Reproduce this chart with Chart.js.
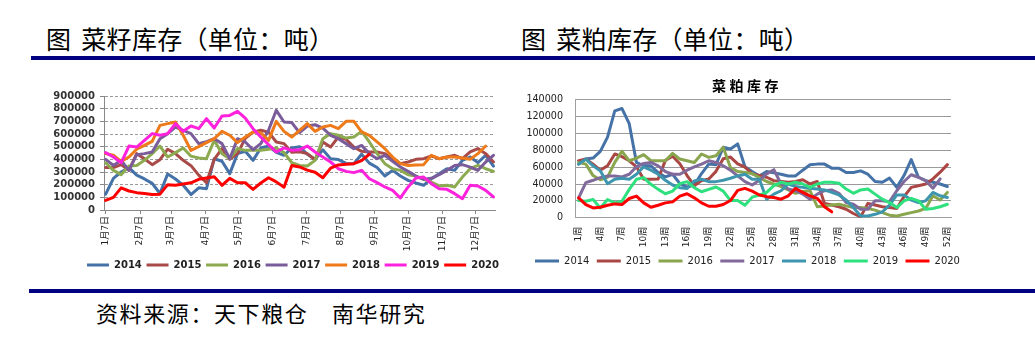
<!DOCTYPE html>
<html lang="zh-CN">
<head>
<meta charset="utf-8">
<title>菜籽、菜粕库存</title>
<script src="https://cdn.jsdelivr.net/npm/chart.js@4.4.1/dist/chart.umd.min.js"></script>
<style>
  html, body { margin: 0; padding: 0; background: #fff; }
  body { position: relative; width: 1035px; height: 340px; overflow: hidden;
         font-family: 'Noto Sans CJK SC', 'Noto Sans', sans-serif; color: #000; }
  .head { position: absolute; top: 23px; font-size: 25px; line-height: 30px; letter-spacing: 0.3px; white-space: nowrap; }
  .head .gap { display: inline-block; width: 10px; }
  .rule { position: absolute; left: 31px; right: 0; background: #000080; }
  .foot { position: absolute; left: 96px; top: 298px; font-size: 22px; line-height: 28px; letter-spacing: 1.6px; white-space: nowrap; }
  .ctitle { position: absolute; left: 644px; width: 200px; top: 76px; padding-left: 3px; text-align: center;
            font-size: 14px; line-height: 18px; font-weight: bold; letter-spacing: 3.5px; white-space: nowrap; }
  canvas { position: absolute; }
</style>
</head>
<body>
<div class="head" style="left:46px">图<span class="gap"></span>菜籽库存（单位：吨）</div>
<div class="head" style="left:521px">图<span class="gap"></span>菜粕库存（单位：吨）</div>
<div class="rule" style="top:56px;height:4px"></div>

<canvas id="seed" width="526" height="195" style="left:30px;top:85px;width:526px;height:195px"></canvas>
<canvas id="meal" width="465" height="194" style="left:515px;top:82px;width:465px;height:194px"></canvas>
<div class="ctitle">菜粕库存</div>

<div class="rule" style="top:289px;height:4px;left:29px"></div>
<div class="foot">资料来源：天下粮仓　南华研究</div>

<script>
// ---------- 菜籽库存 (tons), weekly readings ----------
// day of year (0 = 1月1日) of each weekly reading, first one on 1月7日
const seedWeekDays = [6,13,20,27,34,41,48,55,62,69,76,83,90,97,104,111,118,125,132,139,
  146,153,160,167,174,181,188,195,202,209,216,223,230,237,244,251,258,265,272,279,
  286,293,300,307,314,321,328,335,342,349,356];

// month tick positions (day of year) and their labels
const seedTickDays = [6, 37, 65, 96, 126, 157, 187, 218, 249, 279, 310, 340];
const seedTickLabels = ['1月7日','2月7日','3月7日','4月7日','5月7日','6月7日',
  '7月7日','8月7日','9月7日','10月7日','11月7日','12月7日'];

const seed2014 = [125000,250000,300000,335000,275000,245000,210000,130000,285000,245000,
  195000,122000,175000,168000,405000,385000,287000,445000,463000,392000,
  490000,505000,455000,432000,490000,500000,440000,400000,475000,405000,
  398000,368000,366000,440000,370000,335000,268000,313000,268000,234000,
  213000,195000,247000,287000,326000,313000,392000,418000,374000,432000,347000];
const seed2015 = [335000,335000,358000,313000,445000,405000,358000,397000,480000,445000,
  392000,350000,275000,215000,400000,485000,400000,445000,565000,615000,
  630000,615000,537000,524000,455000,460000,445000,397000,537000,497000,
  576000,558000,497000,463000,458000,458000,445000,400000,366000,379000,
  400000,405000,426000,405000,418000,432000,405000,458000,485000,445000,379000];
const seed2016 = [373000,313000,279000,347000,352000,392000,445000,505000,418000,453000,
  490000,425000,410000,405000,550000,445000,405000,485000,471000,471000,
  471000,479000,490000,453000,373000,352000,347000,392000,563000,603000,
  590000,568000,576000,621000,537000,445000,366000,326000,313000,279000,
  268000,242000,221000,190000,195000,182000,260000,326000,352000,326000,305000];
const seed2017 = [400000,352000,392000,313000,437000,445000,458000,563000,603000,655000,
  629000,603000,524000,540000,563000,524000,405000,563000,537000,476000,
  524000,629000,787000,695000,690000,610000,663000,673000,647000,590000,
  563000,524000,484000,510000,445000,405000,432000,384000,339000,305000,
  268000,242000,250000,279000,313000,352000,358000,339000,313000,379000,432000];
const seed2018 = [445000,432000,384000,418000,480000,510000,542000,668000,682000,695000,
  590000,470000,500000,532000,563000,621000,590000,532000,576000,616000,
  610000,550000,700000,621000,576000,629000,682000,621000,655000,668000,
  642000,700000,700000,616000,590000,537000,484000,418000,366000,352000,
  355000,358000,432000,405000,418000,418000,410000,400000,445000,505000];
const seed2019 = [453000,418000,373000,505000,497000,550000,603000,590000,603000,682000,
  621000,663000,642000,721000,647000,742000,747000,779000,726000,642000,
  576000,516000,458000,490000,471000,476000,505000,458000,418000,379000,
  326000,305000,295000,313000,247000,216000,182000,155000,95000,182000,
  253000,260000,208000,168000,163000,129000,89000,195000,190000,155000,103000];
const seed2020 = [76000,100000,175000,150000,137000,130000,122000,125000,200000,195000,
  205000,215000,242000,252000,262000,195000,250000,215000,215000,163000,
  213000,255000,222000,180000,352000,340000,315000,298000,255000,330000,
  356000,362000,366000,390000,440000];

// ---------- 菜粕库存 (tons), by week number ----------
const mealWeeks = ['1周','2周','3周','4周','5周','6周','7周','8周','9周','10周',
  '11周','12周','13周','14周','15周','16周','17周','18周','19周','20周',
  '21周','22周','23周','24周','25周','26周','27周','28周','29周','30周',
  '31周','32周','33周','34周','35周','36周','37周','38周','39周','40周',
  '41周','42周','43周','44周','45周','46周','47周','48周','49周','50周','51周','52周'];

const meal2014 = [63600,69600,70800,78800,95600,126800,129600,111600,65600,61600,
  61600,53600,48400,51600,40400,36400,38800,52400,63600,62800,
  83600,81600,87600,60400,54800,49600,54800,53200,51600,49600,
  49600,56400,62800,63600,63600,58800,58800,53600,53600,55600,
  51600,43000,42000,47000,36000,50000,69000,48000,44000,42000,40000,37000];
const meal2015 = [67600,69600,63600,56400,61600,75600,72400,67600,60400,45600,
  45600,46000,68000,73000,64000,50000,38000,44000,46000,55000,
  70000,72000,64000,60000,52000,50000,48000,44000,43000,42000,
  43000,45000,40000,43000,17000,15000,13000,10000,5000,1000,
  17000,15000,13000,12000,11000,25000,36000,38000,40000,46000,54000,63000];
const meal2016 = [65600,63600,50000,45000,48000,65600,78800,67600,70800,74800,
  67600,67600,67600,76400,69600,67600,65600,75600,71600,73600,
  83600,59600,54800,53600,52400,47600,43000,40000,37000,33000,
  29000,31000,32000,13000,14000,15000,16000,14000,12000,12000,
  11000,9000,6000,3000,2000,4000,6000,8000,11000,26000,21000,30000];
const meal2017 = [23600,41600,44400,47600,49600,49600,48400,51600,60400,64400,
  65600,61600,54800,51600,51600,56400,60400,63600,67600,65600,
  61600,56400,49600,42800,38800,44400,52000,57000,40000,34000,
  32000,28000,22000,28000,32000,33000,29000,18000,16000,10000,
  10000,20000,20000,19000,32000,43000,51000,48000,44000,35000,46000];
const meal2018 = [63600,69600,61600,55600,40400,45600,46800,45600,51600,60400,
  56400,51600,44400,38800,35600,34800,43600,45600,42800,42800,
  44400,46800,49600,51600,45600,45600,22000,28000,32000,40000,
  37000,36000,35000,34000,33000,30000,27000,21000,12000,2000,
  2000,4000,7000,15000,27000,27000,21000,18000,20000,30000,26000,24000];
const meal2019 = [20400,19600,21600,11600,21600,17600,19600,33600,45600,47600,
  39600,33600,28400,31600,40400,42800,35600,30800,33600,36400,
  31600,20400,20400,14800,24400,26800,30000,38000,42000,40000,
  42000,40000,36000,40000,42000,42000,41000,34000,29000,33000,
  34000,28000,22000,18000,12000,20000,23000,20000,10000,11000,13000,16000];
const meal2020 = [23600,15600,11600,12400,14800,16400,15600,22800,25600,17600,
  12400,14800,17600,18800,25600,28400,23600,17600,13600,13600,
  15600,20400,32400,34800,31600,27000,25000,24000,22000,26000,
  35000,30000,26000,23000,13000,7000];

const yearLabels = ['2014','2015','2016','2017','2018','2019','2020'];
const seedColors = ['#4472A8','#A84A48','#8CAA50','#7A5C9A','#EE7A1A','#FF22DD','#FF0000'];
const mealColors = ['#4572A7','#AA4643','#89A54E','#80699B','#3D96AE','#2EE07E','#FF0000'];

Chart.defaults.font.family = "'DejaVu Sans', 'Noto Sans CJK SC', sans-serif";
Chart.defaults.color = '#222';

// legend entries in year order, drawn as short thick lines
function yearLegendLabels(chart) {
  return chart.data.datasets.map((ds, i) => ({
    text: ds.label, fillStyle: ds.borderColor, strokeStyle: ds.borderColor,
    lineWidth: 0, hidden: false, datasetIndex: i, fontColor: '#222'
  }));
}

function lineSet(label, color, data, idx, count) {
  return {
    label, data, borderColor: color, backgroundColor: color,
    borderWidth: 3, pointRadius: 0, tension: 0, fill: false,
    borderJoinStyle: 'round', borderCapStyle: 'round',
    order: count - idx   // later years painted on top
  };
}

// ---------- left chart: 菜籽库存 ----------
const seedValues = [seed2014, seed2015, seed2016, seed2017, seed2018, seed2019, seed2020];
new Chart(document.getElementById('seed'), {
  type: 'line',
  data: {
    datasets: seedValues.map((vals, i) => lineSet(
      yearLabels[i], seedColors[i],
      vals.map((v, k) => ({ x: seedWeekDays[k], y: v })), i, seedValues.length))
  },
  options: {
    responsive: false, animation: false, events: [],
    layout: { padding: 0 },
    scales: {
      x: {
        type: 'linear', min: 4.5, max: 357.4,
        afterBuildTicks: s => { s.ticks = seedTickDays.map(v => ({ value: v })); },
        ticks: {
          autoSkip: false, maxRotation: 90, minRotation: 90, padding: 2,
          font: { size: 9 }, color: '#222',
          callback: v => seedTickLabels[seedTickDays.indexOf(v)] || ''
        },
        grid: { display: true, drawOnChartArea: false, drawTicks: true, tickLength: 4, color: '#888' },
        border: { display: true, color: '#888', width: 1 },
        afterFit: s => { s.height = 45.3; }
      },
      y: {
        type: 'linear', min: 0, max: 900000,
        ticks: { stepSize: 100000, autoSkip: false, padding: 5,
                 font: { size: 10, weight: 'bold' }, color: '#333',
                 callback: v => String(v) },
        grid: { color: '#9A9A9A', lineWidth: 1, drawTicks: true, tickLength: 4,
                tickColor: '#888', tickBorderDash: [] },
        border: { display: true, color: '#888', width: 1, dash: [3, 2] },
        afterFit: s => { s.width = 74; }
      },
      pad: {
        type: 'linear', position: 'right', display: true,
        ticks: { display: false }, grid: { display: false }, border: { display: false },
        afterFit: s => { s.width = 61; }
      }
    },
    plugins: {
      legend: {
        position: 'bottom', align: 'center',
        labels: { boxWidth: 22, boxHeight: 3, padding: 4.7, color: '#222',
                  font: { size: 10, weight: 'bold' }, generateLabels: yearLegendLabels }
      },
      tooltip: { enabled: false }
    }
  }
});

// ---------- right chart: 菜粕库存 ----------
const mealValues = [meal2014, meal2015, meal2016, meal2017, meal2018, meal2019, meal2020];
new Chart(document.getElementById('meal'), {
  type: 'line',
  data: {
    labels: mealWeeks,
    datasets: mealValues.map((vals, i) => lineSet(
      yearLabels[i], mealColors[i], vals, i, mealValues.length))
  },
  options: {
    responsive: false, animation: false, events: [],
    layout: { padding: 0 },
    scales: {
      x: {
        type: 'category', offset: true,
        ticks: {
          autoSkip: false, maxRotation: 90, minRotation: 90, padding: 9,
          font: { size: 9 }, color: '#222',
          callback: function (v, i) { return i % 3 === 0 ? this.getLabelForValue(v) : ''; }
        },
        grid: { display: false, drawTicks: false, tickLength: 0 },
        border: { display: true, color: '#A0A0A0', width: 1 },
        afterFit: s => { s.height = 31; }
      },
      y: {
        type: 'linear', min: 0, max: 140000,
        ticks: { stepSize: 20000, autoSkip: false, padding: 12, font: { size: 9.6 }, color: '#222',
                 callback: v => String(v) },
        grid: { color: '#9A9A9A', lineWidth: 1, drawTicks: false },
        border: { display: true, color: '#A0A0A0', width: 1 },
        afterFit: s => { s.width = 60; }
      },
      pad: {
        type: 'linear', position: 'right', display: true,
        ticks: { display: false }, grid: { display: false }, border: { display: false },
        afterFit: s => { s.width = 29; }
      }
    },
    plugins: {
      legend: {
        position: 'bottom', align: 'center',
        labels: { boxWidth: 24, boxHeight: 3, padding: 7.3, color: '#222',
                  font: { size: 10 }, generateLabels: yearLegendLabels }
      },
      tooltip: { enabled: false }
    }
  }
});
</script>
</body>
</html>
